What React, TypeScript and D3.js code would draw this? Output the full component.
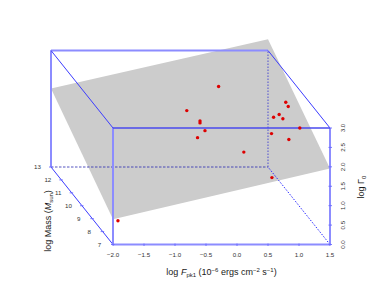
import React from "react";
import * as d3 from "d3";

// log F_pk1, log Mass, log Gamma_0 for each burst
const fluxValues = [0.37, -0.31, -0.18, -0.18, -0.10, -0.22, 0.36, 1.37, 1.41, 1.18, 1.09, 1.24, 1.43, 0.89, 1.17, 0.73, -1.92];
const massValues = [11, 10, 9.5, 9.5, 9.5, 9.5, 8.5, 10.5, 10.5, 10, 10, 10, 9.5, 9, 9, 8, 7];
const gammaValues = [2.74, 2.45, 2.35, 2.30, 2.10, 1.92, 1.88, 2.50, 2.39, 2.35, 2.28, 2.24, 2.17, 2.19, 2.04, 1.39, 0.61];

// fitted plane at the four corners of the floor
const planeFlux = [-2, 1.5, 1.5, -2];
const planeMass = [7, 7, 13, 13];
const planeGamma = [0.65, 1.96, 3.29, 2.02];

const fluxTicks = [-2, -1.5, -1, -0.5, 0, 0.5, 1, 1.5];
const massTicks = [7, 8, 9, 10, 11, 12, 13];
const gammaTicks = [0, 0.5, 1, 1.5, 2, 2.5, 3];

const width = 374;
const height = 307;
const font = "'Liberation Sans', Arial, sans-serif";

const xScale = d3.scaleLinear().domain([-2, 1.5]).range([113, 330]);
const yScale = d3.scaleLinear().domain([0, 3]).range([244.5, 128]);
const dxScale = d3.scaleLinear().domain([7, 13]).range([0, -62]);
const dyScale = d3.scaleLinear().domain([7, 13]).range([0, -77.5]);

const px = (f: number, m: number) => xScale(f) + dxScale(m);
const py = (g: number, m: number) => yScale(g) + dyScale(m);

const line = d3.line();
const seg = (a: number[], b: number[]) => line([[px(a[0], a[1]), py(a[2], a[1])], [px(b[0], b[1]), py(b[2], b[1])]]) as string;

const fMin = -2, fMax = 1.5, mMin = 7, mMax = 13, gMin = 0, gMax = 3;

export default function App() {
  const plane = planeFlux.map((f, i) => [px(f, planeMass[i]), py(planeGamma[i], planeMass[i])] as [number, number]);
  const pale = { stroke: "#8c8cff", strokeWidth: 2, fill: "none" };
  const mid = { stroke: "#4a4aee", strokeWidth: 1.4, fill: "none" };
  const thin = { stroke: "#3c3cff", strokeWidth: 1, fill: "none" };
  const tickStyle = { fontFamily: font, fontSize: 6.2, fill: "#333" };
  const titleFill = "#1a1a1a";

  return (
    <svg width={width} height={height} style={{ position: "absolute", left: 0, top: 0, background: "#fff" }}>
      <path d={(d3.line()(plane) as string) + "Z"} fill="#cccccc" />

      {/* back of the box, dashed where hidden */}
      <path d={seg([fMin, mMax, gMin], [fMax, mMax, gMin])} fill="none" stroke="#2a2ab0" strokeWidth={0.8} strokeDasharray="2.5 1.5" />
      <path d={seg([fMax, mMax, gMin], [fMax, mMax, gMax])} fill="none" stroke="#5a5ad0" strokeWidth={1.1} strokeDasharray="1.5 1.5" />
      <path d={seg([fMax, mMin, gMin], [fMax, mMax, gMin])} fill="none" stroke="#2a2aff" strokeWidth={1} strokeDasharray="1.5 1.5" />

      <path d={seg([fMin, mMax, gMin], [fMin, mMax, gMax])} {...pale} />
      <path d={seg([fMin, mMax, gMax], [fMax, mMax, gMax])} {...pale} />
      <path d={seg([fMin, mMin, gMin], [fMin, mMax, gMin])} {...thin} />
      <path d={seg([fMin, mMin, gMax], [fMin, mMax, gMax])} {...thin} />
      <path d={seg([fMax, mMin, gMax], [fMax, mMax, gMax])} {...thin} />

      {/* front of the box */}
      <path d={seg([fMin, mMin, gMin], [fMin, mMin, gMax])} {...pale} />
      <path d={seg([fMax, mMin, gMin], [fMax, mMin, gMax])} {...pale} />
      <path d={seg([fMin, mMin, gMin], [fMax, mMin, gMin])} {...pale} />
      <path d={seg([fMin, mMin, gMax], [fMax, mMin, gMax])} {...mid} />

      {fluxValues.map((f, i) => (
        <circle key={i} cx={px(f, massValues[i])} cy={py(gammaValues[i], massValues[i])} r={1.7} fill="#dd0000" />
      ))}

      {/* ticks and tick labels */}
      {fluxTicks.map((t) => (
        <g key={t}>
          <line x1={xScale(t)} x2={xScale(t)} y1={yScale(0) - 1} y2={yScale(0) + 1.5} stroke="#6a6aff" strokeWidth={0.9} />
          <text x={xScale(t)} y={256.5} textAnchor="middle" {...tickStyle}>{d3.format(".1f")(t).replace("-", "\u2212")}</text>
        </g>
      ))}
      {gammaTicks.map((t) => (
        <g key={t}>
          <line x1={xScale(1.5) - 1.5} x2={xScale(1.5) + 2} y1={yScale(t)} y2={yScale(t)} stroke="#6a6aff" strokeWidth={0.9} />
          <text transform={`translate(${xScale(1.5) + 14.5},${yScale(t)}) rotate(-90)`} textAnchor="middle" {...tickStyle}>{d3.format(".1f")(t)}</text>
        </g>
      ))}
      {massTicks.map((m) => (
        <g key={m}>
          <line x1={px(fMin, m) - 2} x2={px(fMin, m) + 1.5} y1={py(gMin, m)} y2={py(gMin, m)} stroke="#6a6aff" strokeWidth={0.9} />
          <text x={px(fMin, m) - 13.5} y={py(gMin, m) + 2.2} textAnchor="middle" {...tickStyle}>{m}</text>
        </g>
      ))}

      {/* axis titles */}
      <text x={221.5} y={275} textAnchor="middle" fontFamily={font} fontSize={9} fill={titleFill}>
        log <tspan fontStyle="italic">F</tspan><tspan fontSize={6} dy={2}>pk1</tspan><tspan dy={-2}> (10</tspan><tspan fontSize={6} dy={-3}>−6</tspan><tspan dy={3}> ergs cm</tspan><tspan fontSize={6} dy={-3}>−2</tspan><tspan dy={3}> s</tspan><tspan fontSize={6} dy={-3}>−1</tspan><tspan dy={3}>)</tspan>
      </text>
      <text transform="translate(51,221) rotate(-90)" textAnchor="middle" fontFamily={font} fontSize={9} fill={titleFill}>
        log Mass (<tspan fontStyle="italic">M</tspan><tspan fontSize={6} dy={2}>sun</tspan><tspan dy={-2}>)</tspan>
      </text>
      <text transform="translate(364,187) rotate(-90)" textAnchor="middle" fontFamily={font} fontSize={9} fill={titleFill}>
        log Γ<tspan fontSize={6} dy={2}>0</tspan>
      </text>
    </svg>
  );
}
